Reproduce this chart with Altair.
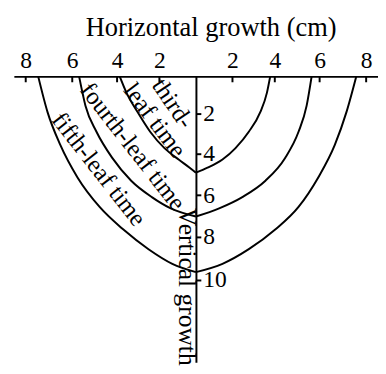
import altair as alt
import pandas as pd

# ---- data ----
curve_names = ["third", "fourth", "fifth"]

third_y = [0, 0.90, 1.91, 2.90, 3.71, 4.27, 4.67, 4.91]
third_left_x = [-3.88, -3.57, -3.05, -2.45, -1.75, -1.02, -0.41, 0]
third_right_x = [3.79, 3.64, 3.33, 2.79, 2.15, 1.50, 0.71, 0]

fourth_y = [0, 1.58, 2.90, 4.19, 5.30, 6.09, 6.63, 7.02]
fourth_left_x = [-5.70, -5.42, -4.93, -4.22, -3.35, -2.37, -1.43, 0]
fourth_right_x = [5.65, 5.43, 5.07, 4.47, 3.57, 2.48, 1.33, 0]

fifth_y = [0, 1.91, 3.55, 5.14, 6.56, 7.64, 8.57, 9.26, 9.65]
fifth_left_x = [-7.47, -7.07, -6.52, -5.77, -4.79, -3.71, -2.53, -1.35, 0]
fifth_right_x = [7.58, 7.16, 6.66, 5.94, 5.07, 4.02, 2.79, 1.50, 0]

label_text = ["third-", "leaf time", "fourth-leaf time", "fifth-leaf time"]
label_x = [-1.32, -2.22, -3.27, -4.82]
label_y = [1.46, 2.32, 3.63, 4.74]
label_angle = [56, 53, 52, 52]

x_ticks = [-8, -6, -4, -2, 2, 4, 6, 8]
y_ticks = [2, 4, 6, 8, 10]

x_title = "Horizontal growth (cm)"
y_title = "Vertical growth"

# ---- tables ----
series = {
    "third": (third_y, third_left_x, third_right_x),
    "fourth": (fourth_y, fourth_left_x, fourth_right_x),
    "fifth": (fifth_y, fifth_left_x, fifth_right_x),
}
rows = []
for name in curve_names:
    ys, lx, rx = series[name]
    for xv, yv in zip(lx, ys):
        rows.append({"key": name + "-L", "x": xv, "y": yv})
    for xv, yv in zip(rx, ys):
        rows.append({"key": name + "-R", "x": xv, "y": yv})
curve_df = pd.DataFrame(rows)
tick_df = pd.DataFrame({"x": x_ticks})
label_df = pd.DataFrame({"label": label_text, "x": label_x, "y": label_y, "angle": label_angle})

FONT = "Liberation Serif"

xs = alt.Scale(type="pow", exponent=1.11, domain=[-8.5, 8.5], nice=False, zero=False)
ys = alt.Scale(type="pow", exponent=1.05, domain=[0, 13.84], nice=False, zero=False, reverse=True)

x_axis = alt.Axis(
    orient="top", values=x_ticks, labelExpr="abs(datum.value)",
    ticks=False, labelPadding=4, labelFontSize=24, labelFont=FONT, labelColor="black",
    labelFlush=False, labelOverlap=False, labelBound=False,
    domainColor="black", domainWidth=2, grid=False,
    title=x_title, titleFont=FONT, titleFontSize=27, titleFontWeight="normal",
    titleColor="black", titleX=201, titleY=-42, titleAlign="center",
    titleBaseline="alphabetic", titleAngle=0,
)
y_axis = alt.Axis(
    orient="right", offset=-186, values=y_ticks,
    tickSize=5, tickWidth=2, tickColor="black",
    labelPadding=2, labelFontSize=24, labelFont=FONT, labelColor="black",
    labelFlush=False, labelOverlap=False, labelBound=False,
    domainColor="black", domainWidth=2, grid=False,
    title=y_title, titleFont=FONT, titleFontSize=26, titleFontWeight="normal",
    titleColor="black", titleAngle=90, titleX=-18, titleY=214.5,
    titleAlign="center", titleBaseline="alphabetic",
)

lines = alt.Chart(curve_df).mark_line(
    color="black", strokeWidth=2, interpolate="monotone"
).encode(
    x=alt.X("x:Q", scale=xs, axis=x_axis),
    y=alt.Y("y:Q", scale=ys, axis=y_axis),
    detail="key:N",
)

ticks = alt.Chart(tick_df).mark_rule(color="black", strokeWidth=2).encode(
    x=alt.X("x:Q"),
    y=alt.value(0),
    y2=alt.value(6),
)

labels = alt.Chart(label_df).mark_text(
    font=FONT, fontSize=25, color="black", align="center", baseline="middle"
).encode(
    x=alt.X("x:Q"),
    y=alt.Y("y:Q"),
    text="label:N",
    angle=alt.Angle("angle:Q", scale=None),
)

chart = alt.layer(lines, ticks, labels).properties(
    width=372,
    height=292,
    autosize=alt.AutoSizeParams(type="none"),
    padding={"left": 6, "top": 66, "right": 0, "bottom": 0},
    background="white",
).configure_view(strokeWidth=0)

chart.save("out.html", embed_options={"renderer": "svg", "actions": False})
